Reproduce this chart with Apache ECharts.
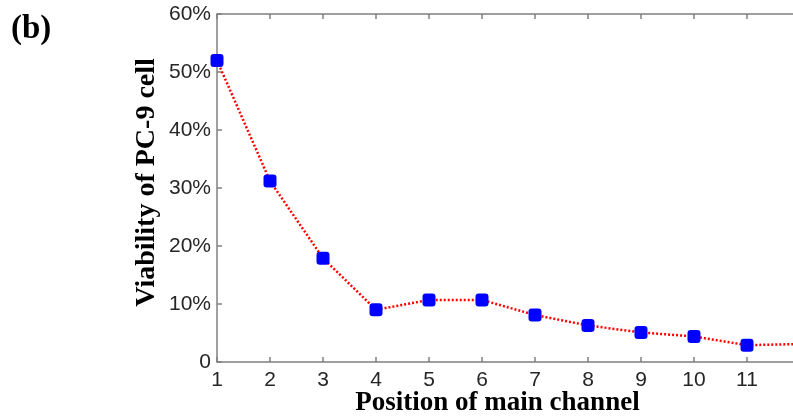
<!DOCTYPE html>
<html>
<head>
<meta charset="utf-8">
<script src="https://cdn.jsdelivr.net/npm/echarts@6/dist/echarts.min.js"></script>
<style>html,body{margin:0;padding:0;background:#fff}#c{width:793px;height:416px}</style>
</head>
<body>
<div id="c"></div>
<script>
var positions = [1, 2, 3, 4, 5, 6, 7, 8, 9, 10, 11, 12];
var viability = [52, 31.2, 17.9, 9.0, 10.7, 10.7, 8.1, 6.3, 5.1, 4.4, 2.9, 3.1];
var xTickLabels = ['1', '2', '3', '4', '5', '6', '7', '8', '9', '10', '11', ''];
var yTicks = [0, 10, 20, 30, 40, 50, 60];
var xTitle = 'Position of main channel';
var yTitle = 'Viability of PC-9 cell';
var panelLabel = '(b)';

var chart = echarts.init(document.getElementById('c'), null, {renderer: 'canvas'});
var axisColor = '#808080';
var titleFont = 'bold 28px "Liberation Serif"';
var data = positions.map(function (p, i) { return [p, viability[i]]; });
chart.setOption({
  animation: false,
  backgroundColor: '#fff',
  grid: {left: 217, right: -7, top: 14, bottom: 54, containLabel: false, outerBoundsMode: 'none'},
  graphic: [{
    type: 'text', left: 11, top: 13,
    style: {text: panelLabel, font: 'bold 33px "Liberation Serif"', fill: '#000'}
  }, {
    type: 'text', x: 497.5, y: 403,
    style: {text: xTitle, font: 'bold 27px "Liberation Serif"', fill: '#000', align: 'center', verticalAlign: 'middle'}
  }, {
    type: 'text', x: 147, y: 182.5, rotation: Math.PI / 2,
    style: {text: yTitle, font: titleFont, fill: '#000', align: 'center', verticalAlign: 'middle'}
  }],
  xAxis: [{
    type: 'value', min: 1, max: 12, interval: 1,
    axisLine: {show: true, lineStyle: {color: axisColor, width: 1.5}},
    axisTick: {show: true, inside: true, length: 5, lineStyle: {color: axisColor, width: 1.5}},
    axisLabel: {fontFamily: 'Liberation Sans', fontSize: 21, color: '#262626', margin: 8,
      formatter: function (v) { var i = positions.indexOf(v); return i >= 0 ? xTickLabels[i] : ''; }},
    splitLine: {show: false}
  }, {
    type: 'value', position: 'top', min: 1, max: 12, interval: 1,
    axisLine: {show: true, onZero: false, lineStyle: {color: axisColor, width: 1.5}},
    axisTick: {show: true, inside: true, length: 5, lineStyle: {color: axisColor, width: 1.5}},
    axisLabel: {show: false},
    splitLine: {show: false}
  }],
  yAxis: {
    type: 'value', min: 0, max: 60, interval: 10,
    axisLine: {show: true, lineStyle: {color: axisColor, width: 1.5}},
    axisTick: {show: true, inside: true, length: 5, lineStyle: {color: axisColor, width: 1.5}},
    axisLabel: {fontFamily: 'Liberation Sans', fontSize: 21, color: '#262626', margin: 6,
      formatter: function (v) { return v === 0 ? '0' : v + '%'; }},
    splitLine: {show: false}
  },
  series: [{
    type: 'line',
    data: data,
    symbol: 'roundRect',
    symbolSize: 13,
    itemStyle: {color: '#0000ff'},
    lineStyle: {color: '#ff0000', width: 2.5, type: [2, 2]},
    clip: false,
    z: 3
  }]
});
</script>
</body>
</html>
